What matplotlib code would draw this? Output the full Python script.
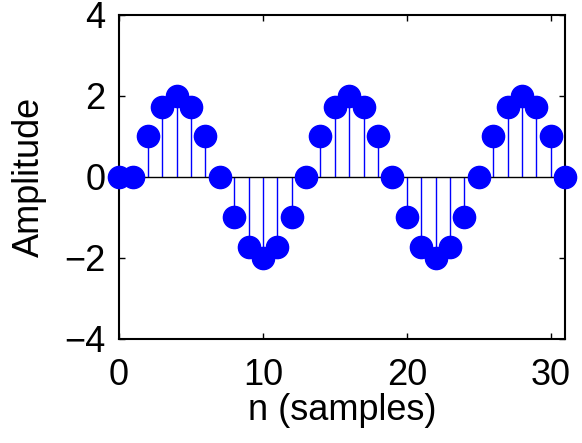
import numpy as np
import matplotlib.pyplot as plt

# samples and amplitudes
n = list(range(32))
amplitude = [0, 0, 1, 1.73, 2, 1.73, 1, 0, -1, -1.73, -2, -1.73, -1, 0,
             1, 1.73, 2, 1.73, 1, 0, -1, -1.73, -2, -1.73, -1, 0,
             1, 1.73, 2, 1.73, 1, 0]
xticks = [0, 10, 20, 30]
yticks = [-4, -2, 0, 2, 4]

plt.rcParams['font.family'] = ['Liberation Sans', 'DejaVu Sans']

fig = plt.figure(figsize=(5.82, 4.43), dpi=100)
ax = fig.add_axes([0.2045, 0.235, 0.7665, 0.732])

markerline, stemlines, baseline = ax.stem(n, amplitude)
plt.setp(markerline, color='#0000ff', markersize=16, zorder=3, clip_on=False)
plt.setp(stemlines, color='#0000ff', linewidth=1)
plt.setp(baseline, color='black', linewidth=1)

ax.set_xlim(0, 31)
ax.set_ylim(-4, 4)
ax.set_xticks(xticks)
ax.set_yticks(yticks)
ax.set_yticklabels(['\u22124', '\u22122', '0', '2', '4'])
ax.tick_params(direction='in', top=True, right=True, length=4, width=1,
               labelsize=26)
ax.tick_params(axis='x', pad=14)
ax.tick_params(axis='y', pad=10)
for s in ax.spines.values():
    s.set_linewidth(1.5)

ax.set_xlabel('n (samples)', fontsize=26, labelpad=0)
ax.set_ylabel('Amplitude', fontsize=26, labelpad=12)

fig.savefig('out.png', dpi=100)
